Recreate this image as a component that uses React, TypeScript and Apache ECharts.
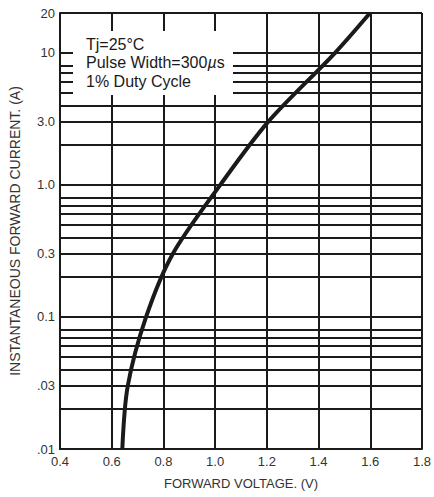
import React, { useEffect, useRef } from "react";
import * as echarts from "echarts";

// Curve readings (forward voltage V, instantaneous forward current A)
const forwardVoltage = [0.641, 0.662, 0.733, 0.836, 1.02, 1.205, 1.464, 1.599];
const forwardCurrent = [0.01, 0.03, 0.1, 0.3, 1.0, 3.0, 10, 20];

// Horizontal grid levels (A)
const gridLevels = [
  0.01, 0.02, 0.03, 0.04, 0.05, 0.06, 0.07, 0.08,
  0.1, 0.2, 0.3, 0.4, 0.5, 0.6, 0.7, 0.8,
  1, 2, 3, 4, 5, 6, 7, 8,
  10, 20,
];

// Y tick labels
const yTickValues = [20, 10, 3, 1, 0.3, 0.1, 0.03, 0.01];
const yTickLabels = ["20", "10", "3.0", "1.0", "0.3", "0.1", ".03", ".01"];

const noteLines = ["Tj=25°C", "Pulse Width=300{mu|µ}s", "1% Duty Cycle"];

const FONT = "'Liberation Sans', Arial, Helvetica, sans-serif";
const INK = "#1a1a1a";
const TEXT = "#333333";

export default function App() {
  const ref = useRef<HTMLDivElement>(null);
  useEffect(() => {
    if (!ref.current) return;
    const chart = echarts.init(ref.current, undefined, { renderer: "svg" });
    const curve = forwardVoltage.map((v, i) => [v, forwardCurrent[i]]);
    const markData = gridLevels.map((lv) => {
      const idx = yTickValues.indexOf(lv);
      return {
        yAxis: lv,
        label:
          idx >= 0
            ? { show: true, formatter: yTickLabels[idx], position: "start", distance: 5, color: TEXT, fontSize: 13, fontFamily: FONT }
            : { show: false },
      };
    });
    chart.setOption({
      animation: false,
      backgroundColor: "#ffffff",
      textStyle: { fontFamily: FONT },
      grid: { left: 60, right: 10, top: 13, bottom: 48, containLabel: false },
      xAxis: {
        type: "value",
        min: 0.4,
        max: 1.8,
        interval: 0.2,
        name: "FORWARD VOLTAGE. (V)",
        nameLocation: "middle",
        nameGap: 28,
        nameTextStyle: { color: TEXT, fontSize: 13, fontFamily: FONT },
        axisLine: { show: true, lineStyle: { color: INK, width: 2 } },
        axisTick: { show: false },
        axisLabel: { color: TEXT, fontSize: 13, margin: 6, fontFamily: FONT, formatter: (v: number) => v.toFixed(1) },
        splitLine: { show: true, lineStyle: { color: INK, width: 2 } },
      },
      yAxis: {
        type: "log",
        logBase: 10,
        min: 0.01,
        max: 20,
        name: "INSTANTANEOUS FORWARD CURRENT. (A)",
        nameLocation: "middle",
        nameGap: 38,
        nameTextStyle: { color: TEXT, fontSize: 14, fontFamily: FONT },
        axisLine: { show: true, lineStyle: { color: INK, width: 2 } },
        axisTick: { show: false },
        axisLabel: { show: false },
        splitLine: { show: false },
        minorSplitLine: { show: false },
      },
      series: [
        {
          type: "line",
          data: curve,
          smooth: 0.3,
          symbol: "none",
          z: 3,
          lineStyle: { color: INK, width: 4 },
          markLine: {
            silent: true,
            z: 1,
            symbol: ["none", "none"],
            animation: false,
            lineStyle: { color: INK, width: 2, type: "solid" },
            label: { show: false },
            emphasis: { disabled: true },
            data: markData,
          },
        },
      ],
      graphic: [
        {
          type: "rect",
          z: 10,
          shape: { x: 73, y: 31, width: 160, height: 64 },
          style: { fill: "#ffffff" },
        },
        ...noteLines.map((t, i) => ({
          type: "text",
          z: 11,
          x: 86,
          y: 44.5 + i * 18.4,
          style: {
            text: t,
            fill: INK,
            font: `16px ${FONT}`,
            verticalAlign: "middle",
            align: "left",
            rich: { mu: { fontStyle: "italic", fontSize: 16, fontFamily: FONT, fill: INK } },
          },
        })),
      ],
    });
    return () => chart.dispose();
  }, []);
  return <div ref={ref} style={{ position: "absolute", left: 0, top: 0, width: 434, height: 497 }} />;
}
